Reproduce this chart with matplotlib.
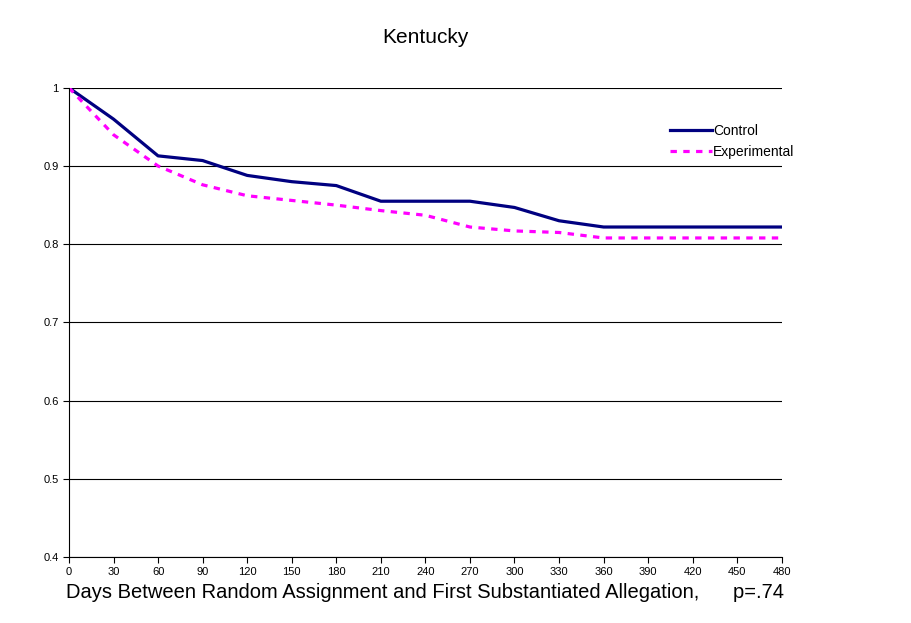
import matplotlib
matplotlib.use('Agg')
from matplotlib import pyplot as plt

plt.rcParams['font.family'] = ['Liberation Sans', 'DejaVu Sans']

days = [0, 30, 60, 90, 120, 150, 180, 210, 240, 270, 300, 330, 360, 390, 420, 450, 480]
control = [1.0, 0.96, 0.913, 0.907, 0.888, 0.880, 0.875, 0.855, 0.855, 0.855, 0.847,
           0.830, 0.822, 0.822, 0.822, 0.822, 0.822]
experimental = [1.0, 0.94, 0.90, 0.876, 0.862, 0.856, 0.850, 0.843, 0.837, 0.822, 0.817,
                0.815, 0.808, 0.808, 0.808, 0.808, 0.808]
yticks = [0.4, 0.5, 0.6, 0.7, 0.8, 0.9, 1]

fig = plt.figure(figsize=(9.11, 6.23), dpi=100)
ax = fig.add_axes([0.0757, 0.106, 0.7825, 0.753])
ax.plot(days, control, color='#000080', lw=2.3, label='Control')
ax.plot(days, experimental, color='#ff00ff', lw=2.3, ls=(0, (2, 2)), label='Experimental')
ax.set_xlim(0, 480)
ax.set_ylim(0.4, 1)
ax.set_xticks(days)
ax.set_yticks(yticks)
ax.set_yticklabels(['0.4', '0.5', '0.6', '0.7', '0.8', '0.9', '1'])
ax.tick_params(labelsize=8, length=4, direction='out')
ax.yaxis.grid(True, color='black', lw=0.8)
ax.set_axisbelow(True)
for s in ('top', 'right'):
    ax.spines[s].set_visible(False)
ax.set_title('Kentucky', fontsize=15, pad=32)
ax.set_xlabel('Days Between Random Assignment and First Substantiated Allegation,      p=.74',
              fontsize=14.5, labelpad=4)
ax.legend(loc='upper right', bbox_to_anchor=(1.035, 0.95), frameon=False, fontsize=10,
          handlelength=3, handletextpad=0.1)
fig.savefig('out.png')
